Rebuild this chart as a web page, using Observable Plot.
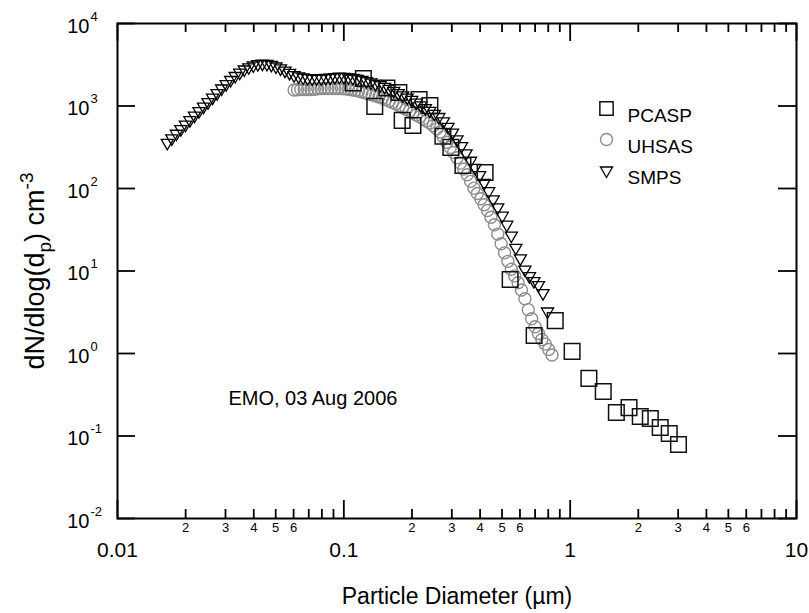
<!DOCTYPE html>
<html><head><meta charset="utf-8">
<script src="https://cdn.jsdelivr.net/npm/d3@7"></script>
<script src="https://cdn.jsdelivr.net/npm/@observablehq/plot@0.6"></script>
<style>
html,body{margin:0;padding:0;background:#fff;}
#chart svg{display:block;}
</style>
</head><body><div id="chart"></div>
<script>
// ---- data ----
const smpsDiameter = [0.01660,0.01738,0.01820,0.01905,0.01995,0.02089,0.02188,0.02291,0.02399,0.02512,
  0.02630,0.02754,0.02884,0.03020,0.03162,0.03311,0.03467,0.03631,0.03802,0.03981,
  0.04169,0.04365,0.04571,0.04786,0.05012,0.05248,0.05495,0.05754,0.06026,0.06310,
  0.06607,0.06918,0.07244,0.07586,0.07943,0.08318,0.08710,0.09120,0.09550,0.1000,
  0.1047,0.1096,0.1148,0.1202,0.1259,0.1318,0.1380,0.1445,0.1514,0.1585,
  0.1660,0.1738,0.1820,0.1905,0.1995,0.2089,0.2188,0.2291,0.2399,0.2512,
  0.2630,0.2754,0.2884,0.3020,0.3162,0.3311,0.3467,0.3631,0.3802,0.3981,
  0.4169,0.4365,0.4571,0.4786,0.5012,0.5248,0.5495,0.5754,0.6026,0.6310,
  0.6607,0.6918,0.7244,0.7586,0.7943];
const smpsConc = [358,405,461,524,593,673,763,867,984,1114,
  1264,1433,1630,1842,2065,2310,2533,2770,2946,3097,
  3212,3265,3228,3157,3012,2856,2685,2518,2362,2284,
  2215,2178,2155,2155,2155,2185,2210,2240,2265,2258,
  2228,2190,2137,2078,1998,1927,1853,1786,1705,1616,
  1524,1433,1344,1264,1186,1096,1017,943,875,804,
  736,651,560,476,394,327,266,217,178,145,
  117,92.7,74,59,46.8,36.4,26.9,19.1,14.2,10.4,
  8.65,7.55,6.76,5.40,3.23];

const uhsasDiameter = [0.0603,0.0624,0.0646,0.0668,0.0692,0.0716,0.0741,0.0767,0.0794,0.0822,
  0.0851,0.0881,0.0912,0.0944,0.0977,0.1012,0.1047,0.1084,0.1122,0.1161,
  0.1202,0.1245,0.1288,0.1334,0.1380,0.1429,0.1479,0.1531,0.1585,0.1641,
  0.1698,0.1758,0.1820,0.1884,0.1950,0.2018,0.2089,0.2163,0.2239,0.2317,
  0.2399,0.2483,0.2570,0.2661,0.2754,0.2851,0.2951,0.3055,0.3162,0.3273,
  0.3388,0.3508,0.3631,0.3758,0.3890,0.4027,0.4169,0.4315,0.4467,0.4624,
  0.4786,0.4955,0.5129,0.5309,0.5495,0.5689,0.5888,0.6095,0.6310,0.6531,
  0.6761,0.6998,0.7244,0.7499,0.7762,0.8035,0.8318];
const uhsasConc = [1560,1575,1585,1585,1585,1585,1598,1617,1630,1630,
  1630,1630,1630,1630,1630,1612,1594,1576,1545,1515,
  1482,1441,1402,1363,1326,1286,1247,1199,1153,1106,
  1054,1006,959,915,872,827,780,738,698,658,
  622,575,528,484,422,364,315,273,236,203,
  172,147,122,101,87.0,75.0,63.6,54.1,44.8,36.4,
  28.0,21.4,16.6,13.1,10.5,8.72,7.21,5.89,4.60,3.40,
  2.64,2.11,1.75,1.48,1.30,1.12,0.96];

const pcaspDiameter = [0.110,0.122,0.137,0.155,0.175,0.181,0.202,0.215,0.240,0.274,
  0.297,0.336,0.421,0.543,0.693,0.859,1.02,1.21,1.40,1.60,
  1.82,2.04,2.26,2.50,2.74,3.01];
const pcaspConc = [1900,2150,990,1650,1460,670,580,1200,1010,430,
  315,190,156,7.9,1.65,2.5,1.06,0.50,0.346,0.193,
  0.221,0.172,0.163,0.127,0.107,0.079];

const xMajorTicks = [0.01, 0.1, 1, 10];
const xMajorLabels = ["0.01", "0.1", "1", "10"];
const xMinorTicks = [0.02,0.03,0.04,0.05,0.06,0.07,0.08,0.09,
  0.2,0.3,0.4,0.5,0.6,0.7,0.8,0.9,
  2,3,4,5,6,7,8,9];
const xMinorLabelTicks = [0.02,0.03,0.04,0.05,0.06,0.2,0.3,0.4,0.5,0.6,2,3,4,5,6];
const xMinorLabels = ["2","3","4","5","6","2","3","4","5","6","2","3","4","5","6"];
const yMajorTicks = [1e-2, 1e-1, 1e0, 1e1, 1e2, 1e3, 1e4];
const yExponents = ["-2", "-1", "0", "1", "2", "3", "4"];

const seriesNames = ["PCASP", "UHSAS", "SMPS"];
const annotationText = ["EMO, 03 Aug 2006"];
const annotationX = [0.0309];
const annotationY = [0.285];

const xTitle = "Particle Diameter (µm)";
const yTitle = "dN/dlog(dp) cm-3";

// ---- tables ----
const zip = (xs, ys) => xs.map((d, i) => ({d, n: ys[i]}));
const smps = zip(smpsDiameter, smpsConc);
const uhsas = zip(uhsasDiameter, uhsasConc);
const pcasp = zip(pcaspDiameter, pcaspConc);

// ---- layout ----
const W = 809, H = 613;
const mL = 117, mR = 13, mT = 23, mB = 95;
const fw = W - mL - mR, fh = H - mT - mB;
const major = 18, minor = 9;
const font = "'Liberation Sans', Arial, Helvetica, sans-serif";

const styles = {
  PCASP: {symbol: "square", r: 8.8, stroke: "#111", strokeWidth: 1.5},
  UHSAS: {symbol: "circle", r: 6, stroke: "#8c8c8c", strokeWidth: 1.4},
  SMPS: {symbol: "triangle", r: 4.5, stroke: "#000", strokeWidth: 1.3, rotate: 180}
};
const legendMarks = seriesNames.flatMap((name, i) => [
  Plot.dot([name], {frameAnchor: "top-left", dx: 489, dy: 85 + 31 * i, fill: "none", ...styles[name],
    r: name === "PCASP" ? 7.5 : styles[name].r}),
  Plot.text([name], {frameAnchor: "top-left", dx: 510, dy: 85 + 31 * i, text: d => d, textAnchor: "start",
    fontSize: 19, fill: "#000"})
]);

const chart = Plot.plot({
  width: W, height: H,
  marginLeft: mL, marginRight: mR, marginTop: mT, marginBottom: mB,
  x: {type: "log", domain: [0.01, 10], axis: null},
  y: {type: "log", domain: [0.01, 10000], axis: null},
  style: {fontFamily: font, background: "#fff", color: "#000"},
  marks: [
    Plot.dot(uhsas, {x: "d", y: "n", fill: "none", ...styles.UHSAS}),
    Plot.dot(smps, {x: "d", y: "n", fill: "none", ...styles.SMPS}),
    Plot.dot(pcasp, {x: "d", y: "n", fill: "none", ...styles.PCASP}),
    Plot.frame({stroke: "#000", strokeWidth: 2}),
    // inward ticks
    Plot.tickX(xMajorTicks, {x: d => d, insetTop: fh - major, stroke: "#000", strokeWidth: 1.8}),
    Plot.tickX(xMajorTicks, {x: d => d, insetBottom: fh - major, stroke: "#000", strokeWidth: 1.8}),
    Plot.tickX(xMinorTicks, {x: d => d, insetTop: fh - minor, stroke: "#000", strokeWidth: 1.8}),
    Plot.tickX(xMinorTicks, {x: d => d, insetBottom: fh - minor, stroke: "#000", strokeWidth: 1.8}),
    Plot.tickY(yMajorTicks, {y: d => d, insetRight: fw - major, stroke: "#000", strokeWidth: 1.8}),
    Plot.tickY(yMajorTicks, {y: d => d, insetLeft: fw - major, stroke: "#000", strokeWidth: 1.8}),
    // x tick labels
    Plot.text(xMajorTicks, {x: d => d, text: (d, i) => xMajorLabels[i], frameAnchor: "bottom", dy: 38, fontSize: 21, fill: "#000"}),
    Plot.text(xMinorLabelTicks, {x: d => d, text: (d, i) => xMinorLabels[i], frameAnchor: "bottom", dy: 13, fontSize: 13, fill: "#000"}),
    // y tick labels 10^k
    Plot.text(yMajorTicks, {y: d => d, text: () => "10", frameAnchor: "left", dx: -28, dy: 3, textAnchor: "end", fontSize: 20, fill: "#000"}),
    Plot.text(yMajorTicks, {y: d => d, text: (d, i) => yExponents[i], frameAnchor: "left", dx: -27, dy: -7, textAnchor: "start", fontSize: 13, fill: "#000"}),
    // titles
    Plot.text([xTitle], {text: d => d, frameAnchor: "bottom", dy: 85, fontSize: 23, fill: "#000"}),
    Plot.text([yTitle], {text: d => d, frameAnchor: "left", dx: -82, rotate: -90, fontSize: 27, fill: "#000"}),
    // annotation
    Plot.text(annotationText, {x: (d, i) => annotationX[i], y: (d, i) => annotationY[i], text: d => d, textAnchor: "start", fontSize: 20, fill: "#000"}),
    ...legendMarks
  ]
});

document.getElementById("chart").appendChild(chart);

// rich text for the y title: d with subscript p, cm with superscript -3
d3.select(chart).selectAll("text").filter(function() { return this.textContent === yTitle; })
  .each(function() {
    const t = d3.select(this);
    t.text(null).attr("text-anchor", "start");
    const first = t.append("tspan").text("dN/dlog(d");
    t.append("tspan").attr("dy", 7).attr("font-size", 19).text("p");
    t.append("tspan").attr("dy", -7).text(") cm");
    t.append("tspan").attr("dy", -11).attr("font-size", 19).text("-3");
    const len = this.getComputedTextLength();
    first.attr("dx", -len / 2);
  });
</script>
</body></html>
